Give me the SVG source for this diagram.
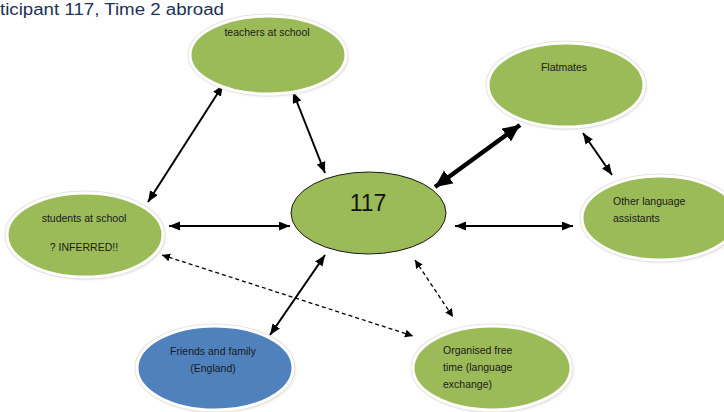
<svg xmlns="http://www.w3.org/2000/svg" width="724" height="412" viewBox="0 0 724 412">
<style>
.title{font-family:"Liberation Sans",Arial,sans-serif;font-size:16px;fill:#1c3158}
.lbl{font-family:"Liberation Sans",Arial,sans-serif;font-size:10.5px;fill:#1a1a1a}
.big{font-family:"Liberation Sans",Arial,sans-serif;font-size:23px;fill:#111}
.rim{fill:none;stroke:#e3e5df;stroke-width:5}
.shadow{fill:#b5b6b0;opacity:0.55}
.g{fill:#9bbb59;stroke:#ffffff;stroke-width:3}
.b{fill:#4f81bd;stroke:#ffffff;stroke-width:3}
.c{fill:none;stroke:#000;stroke-width:2}
.thick{fill:none;stroke:#000;stroke-width:4.5}
.dash{fill:none;stroke:#000;stroke-width:1.3;stroke-dasharray:4 3}
</style>
<defs>
<filter id="blur" x="-20%" y="-20%" width="140%" height="140%"><feGaussianBlur stdDeviation="1.5"/></filter>
<marker id="ah" markerUnits="userSpaceOnUse" markerWidth="13" markerHeight="10" refX="11" refY="4.5" orient="auto-start-reverse"><path d="M0,0 L11,4.5 L0,9 Z" fill="#000"/></marker>
<marker id="ahT" markerUnits="userSpaceOnUse" markerWidth="20" markerHeight="18" refX="17" refY="8" orient="auto-start-reverse"><path d="M0,0 L17,8 L0,16 Z" fill="#000"/></marker>
<marker id="ahD" markerUnits="userSpaceOnUse" markerWidth="10" markerHeight="9" refX="8" refY="4" orient="auto-start-reverse"><path d="M0,0 L8,4 L0,8 Z" fill="#000"/></marker>
</defs>

<text class="title" x="0" y="14.5" textLength="224" lengthAdjust="spacingAndGlyphs">ticipant 117, Time 2 abroad</text>

<g id="connectors">
<path class="c" d="M223,85 L148,202" marker-start="url(#ah)" marker-end="url(#ah)"/>
<path class="c" d="M293,92 L325,173" marker-start="url(#ah)" marker-end="url(#ah)"/>
<path class="thick" d="M520,125 L435,187" marker-start="url(#ahT)" marker-end="url(#ahT)"/>
<path class="c" d="M583,133 L612,175" marker-start="url(#ah)" marker-end="url(#ah)"/>
<path class="c" d="M169,226 L290,226" marker-start="url(#ah)" marker-end="url(#ah)"/>
<path class="c" d="M455,226 L573,226" marker-start="url(#ah)" marker-end="url(#ah)"/>
<path class="c" d="M270,335 L325,255" marker-start="url(#ah)" marker-end="url(#ah)"/>
<path class="dash" d="M162,255 L413,336" marker-start="url(#ahD)" marker-end="url(#ahD)"/>
<path class="dash" d="M415,260 L453,317" marker-start="url(#ahD)" marker-end="url(#ahD)"/>
</g>

<g id="teachers">
<ellipse class="shadow" cx="270" cy="57" rx="78" ry="39" filter="url(#blur)"/>
<ellipse class="rim" cx="268" cy="55" rx="78" ry="39"/>
<ellipse class="g" cx="268" cy="55" rx="78" ry="39"/>
<text class="lbl" x="267" y="36" text-anchor="middle">teachers at school</text>
</g>

<g id="flatmates">
<ellipse class="shadow" cx="568" cy="87" rx="78" ry="42" filter="url(#blur)"/>
<ellipse class="rim" cx="566" cy="85" rx="78" ry="42"/>
<ellipse class="g" cx="566" cy="85" rx="78" ry="42"/>
<text class="lbl" x="564" y="71" text-anchor="middle">Flatmates</text>
</g>

<g id="students">
<ellipse class="shadow" cx="87" cy="237" rx="78" ry="42" filter="url(#blur)"/>
<ellipse class="rim" cx="85" cy="235" rx="78" ry="42"/>
<ellipse class="g" cx="85" cy="235" rx="78" ry="42"/>
<text class="lbl" x="84" y="222" text-anchor="middle">students at school</text>
<text class="lbl" x="84" y="251" text-anchor="middle">? INFERRED!!</text>
</g>

<g id="p117">
<ellipse cx="368.5" cy="213" rx="77.5" ry="41" fill="#9bbb59" stroke="#1a1a1a" stroke-width="1"/>
<text class="big" x="368" y="211" text-anchor="middle">117</text>
</g>

<g id="other">
<ellipse class="shadow" cx="662" cy="220" rx="78" ry="42" filter="url(#blur)"/>
<ellipse class="rim" cx="660" cy="218" rx="78" ry="42"/>
<ellipse class="g" cx="660" cy="218" rx="78" ry="42"/>
<text class="lbl" x="613" y="205">Other language</text>
<text class="lbl" x="613" y="222">assistants</text>
</g>

<g id="friends">
<ellipse class="shadow" cx="217" cy="370" rx="78" ry="42" filter="url(#blur)"/>
<ellipse class="rim" cx="215" cy="368" rx="78" ry="42"/>
<ellipse class="b" cx="215" cy="368" rx="78" ry="42"/>
<text class="lbl" x="213" y="355" text-anchor="middle">Friends and family</text>
<text class="lbl" x="213" y="372" text-anchor="middle">(England)</text>
</g>

<g id="organised">
<ellipse class="shadow" cx="494" cy="370" rx="79" ry="42" filter="url(#blur)"/>
<ellipse class="rim" cx="492" cy="368" rx="79" ry="42"/>
<ellipse class="g" cx="492" cy="368" rx="79" ry="42"/>
<text class="lbl" x="443" y="354">Organised free</text>
<text class="lbl" x="443" y="371">time (language</text>
<text class="lbl" x="443" y="388">exchange)</text>
</g>
</svg>
